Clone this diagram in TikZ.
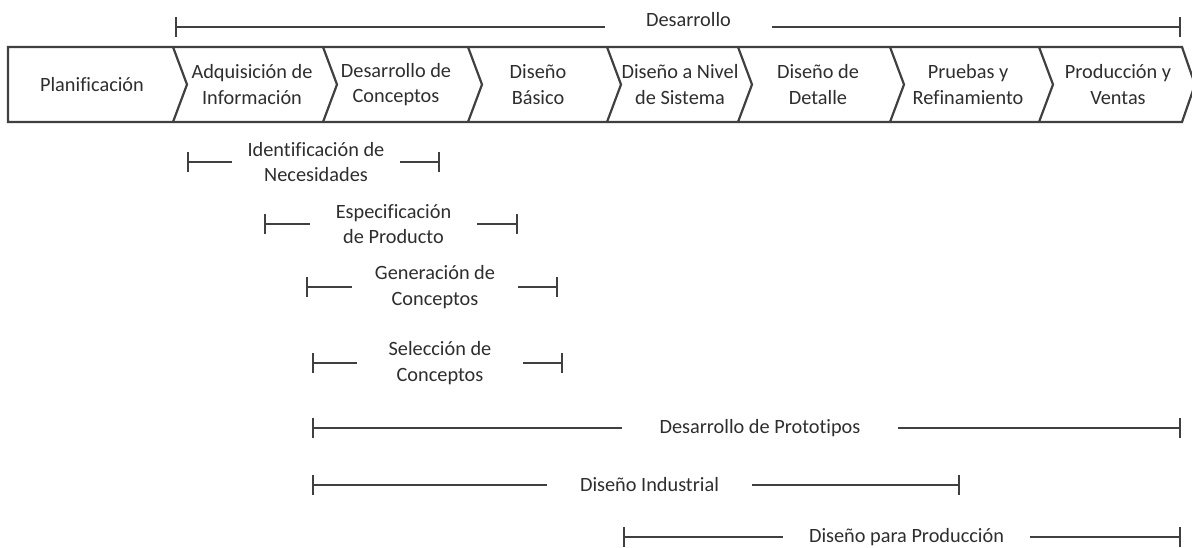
\documentclass[tikz,border=0pt]{standalone}
\usepackage{fontspec}
\setmainfont{Carlito}[Ligatures=CommonOff]
\usetikzlibrary{arrows.meta}

\definecolor{ink}{HTML}{404040}
\definecolor{txt}{HTML}{2E2E2E}

\tikzset{
  stagetxt/.style={text=txt, align=center, inner sep=0pt,
    font=\fontsize{10.15pt}{12.6pt}\selectfont},
  spantxt/.style={stagetxt, minimum height=14pt},
  spanline/.style={draw=ink, line width=1.1pt},
  spanleft/.style={spanline, {Bar[width=10pt]}-},
  spanright/.style={spanline, -{Bar[width=10pt]}},
}

\begin{document}
\begin{tikzpicture}[x={(0.5pt,0)}, y={(0,-0.5pt)}]
\useasboundingbox (0,0) rectangle (1192,547);

% name/left/right/y/gap centre/gap width/text
\def\tramo#1/#2/#3/#4/#5/#6/#7;{%
    \coordinate (#1a) at (#2,#4);
    \coordinate (#1b) at (#3,#4);
    \node[spantxt, minimum width=#6*0.5pt] (#1) at (#5,#4) {#7};
    \draw[spanleft] (#1a) -- (#1);
    \draw[spanright] (#1) -- (#1b);}

% phase row
\draw[spanline] (8,47) -- (1182,47) -- (1195,84.5) -- (1182,122) -- (8,122) -- cycle;
\foreach \x in {173,323,468,607,738,890,1039}
    \draw[spanline] (\x,47) -- (\x+14,84.5) -- (\x,122);

\node[stagetxt] (plan) at (92,84.5)   {Planificación};
\node[stagetxt] (adq)  at (252,84.5)  {Adquisición de\\Información};
\node[stagetxt] (dcon) at (396,84.5)  {Desarrollo de\\Conceptos};
\node[stagetxt] (dbas) at (538,84.5)  {Diseño\\Básico};
\node[stagetxt] (dsis) at (680,84.5)  {Diseño a Nivel\\de Sistema};
\node[stagetxt] (ddet) at (818,84.5)  {Diseño de\\Detalle};
\node[stagetxt] (prue) at (968,84.5)  {Pruebas y\\Refinamiento};
\node[stagetxt] (prod) at (1118,84.5) {Producción y\\Ventas};

% development span
\coordinate (desa) at (175,27);
\coordinate (desb) at (1181,27);
\node[stagetxt, minimum width=83.5pt] (des) at (688.5,20) {Desarrollo};
\draw[spanleft] (desa) -- (desa -| des.west);
\draw[spanright] (desb -| des.east) -- (desb);

% activity spans
\tramo idn/187/440/162/316/168/Identificación de\\Necesidades;
\tramo esp/264/518/224/393.5/167/Especificación\\de Producto;
\tramo gen/306/558/287/435/166/Generación de\\Conceptos;
\tramo sel/312/563/363/440/166/Selección de\\Conceptos;
\tramo pro/312/1181/428/760/276/Desarrollo de Prototipos;
\tramo ind/312/960/485/649.5/205/Diseño Industrial;
\tramo dpp/623/1181/537/906.5/247/Diseño para Producción;

\end{tikzpicture}
\end{document}
